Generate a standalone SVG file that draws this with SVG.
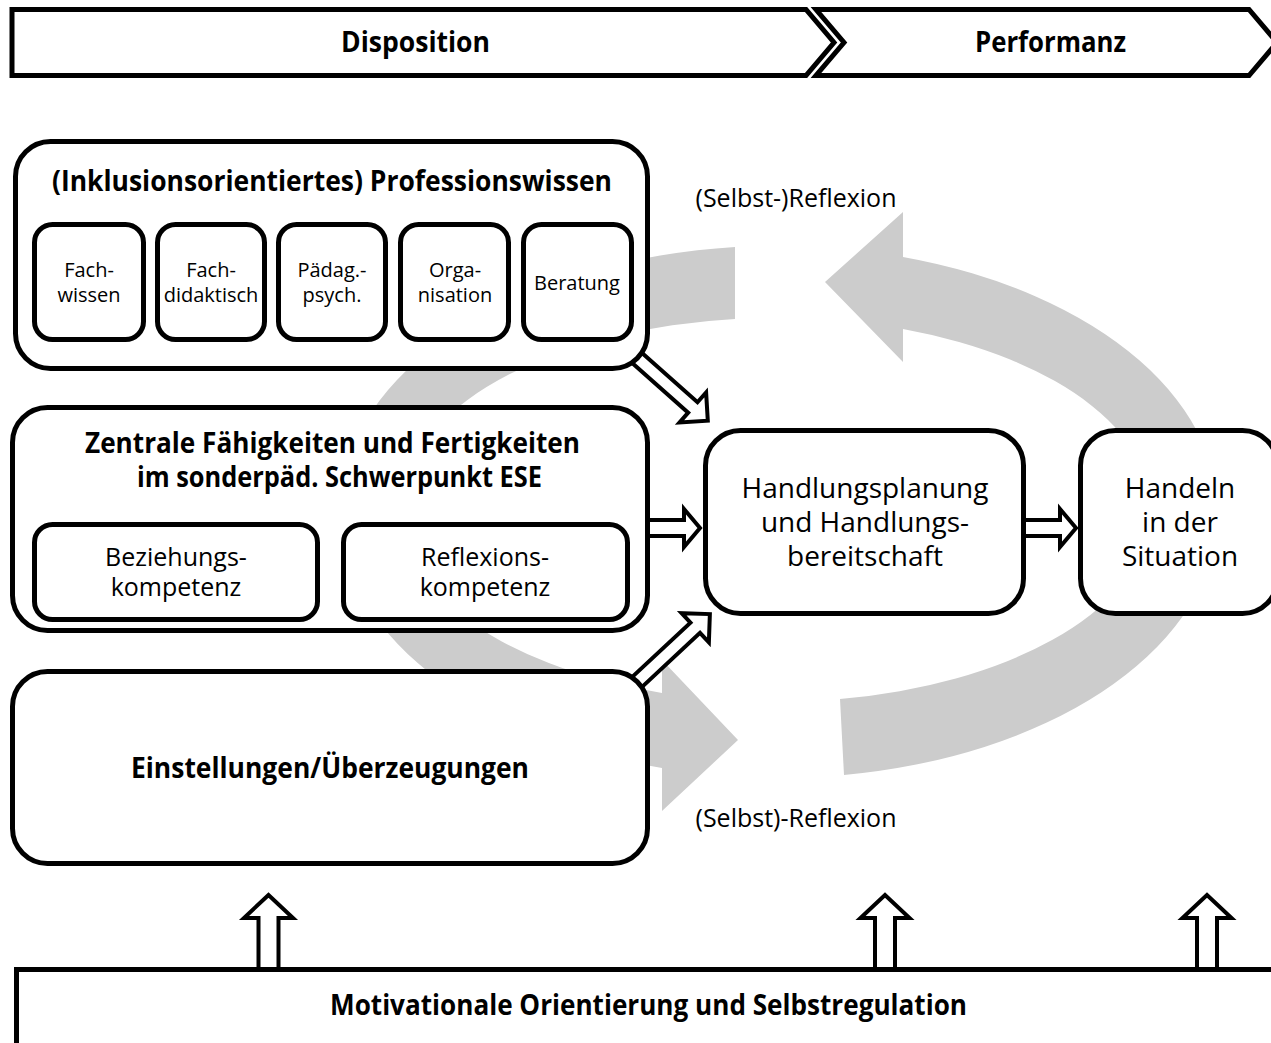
<svg xmlns="http://www.w3.org/2000/svg" width="1271" height="1043" viewBox="0 0 1271 1043">
<style>
.box{fill:#fff;stroke:#000;stroke-width:5}
.arr{fill:#fff;stroke:#000;stroke-width:4;stroke-linejoin:miter;stroke-miterlimit:10}
.gray{fill:#ccc}
.t{font-family:"Open Sans","Noto Sans",sans-serif;fill:#000;text-anchor:middle}
.b{font-weight:bold;font-size:28px}
.r28{font-size:28px}
.r25{font-size:25px}
.r20{font-size:20px}
</style>
<rect width="1271" height="1043" fill="#fff"/>

<g id="reflection-cycle">
  <path id="arc-top" class="gray" d="M844,775 A440 266 0 0 0 903,257 L903,212 L825,282 L903,362 L903,329 A375 192 0 0 1 840,699 Z"/>
  <path id="arc-bottom" class="gray" d="M735,247 A440 266 0 0 0 662,768 L662,811 L738,740 L662,660 L662,693 A375 192 0 0 1 735,319 Z"/>
  <text class="t r25" x="796" y="207">(Selbst-)Reflexion</text>
  <text class="t r25" x="796" y="827">(Selbst)-Reflexion</text>
</g>

<g id="connectors">
  <path class="arr" d="M0,-7 H76 V-20 L96,0 L76,20 V7 H0" transform="translate(636,357) rotate(41.6)"/>
  <path class="arr" d="M0,-7 H81 V-20 L101,0 L81,20 V7 H0" transform="translate(636,683) rotate(-43)"/>
  <path class="arr" d="M646,520 H684 V509 L700,528 L684,547 V536 H646"/>
  <path class="arr" d="M1022,520 H1060 V509 L1076,528 L1060,547 V536 H1022"/>
  <path class="arr" d="M258.5,970 V918 H244 L268.5,895 L293,918 H278.5 V970"/>
  <path class="arr" d="M875,970 V918 H860.5 L885,895 L909.5,918 H895 V970"/>
  <path class="arr" d="M1197,970 V918 H1182.5 L1207,895 L1231.5,918 H1217 V970"/>
</g>

<g id="disposition">
  <path class="box" d="M12,9.5 H806 L834,42.5 L806,75.5 H12 Z"/>
  <text class="t b" x="415.5" y="52" textLength="149" lengthAdjust="spacingAndGlyphs">Disposition</text>
</g>
<g id="performanz">
  <path class="box" d="M816,9.5 H1249 L1277,42.5 L1249,75.5 H816 L844,42.5 Z"/>
  <text class="t b" x="1050.5" y="52" textLength="151" lengthAdjust="spacingAndGlyphs">Performanz</text>
</g>

<g id="professionswissen">
  <rect class="box" x="15.5" y="141.5" width="632" height="227" rx="35"/>
  <text class="t b" x="332" y="191" textLength="560" lengthAdjust="spacingAndGlyphs">(Inklusionsorientiertes) Professionswissen</text>
  <g id="fachwissen">
    <rect class="box" x="34.5" y="224.5" width="109" height="115" rx="18"/>
    <text class="t r20" x="89" y="277">Fach-</text>
    <text class="t r20" x="89" y="302">wissen</text>
  </g>
  <g id="fachdidaktisch">
    <rect class="box" x="157.5" y="224.5" width="107" height="115" rx="18"/>
    <text class="t r20" x="211" y="277">Fach-</text>
    <text class="t r20" x="211" y="302">didaktisch</text>
  </g>
  <g id="paedpsych">
    <rect class="box" x="278.5" y="224.5" width="107" height="115" rx="18"/>
    <text class="t r20" x="332" y="277">Pädag.-</text>
    <text class="t r20" x="332" y="302">psych.</text>
  </g>
  <g id="organisation">
    <rect class="box" x="400.5" y="224.5" width="108" height="115" rx="18"/>
    <text class="t r20" x="455" y="277">Orga-</text>
    <text class="t r20" x="455" y="302">nisation</text>
  </g>
  <g id="beratung">
    <rect class="box" x="523.5" y="224.5" width="108" height="115" rx="18"/>
    <text class="t r20" x="577" y="290">Beratung</text>
  </g>
</g>

<g id="zentrale">
  <rect class="box" x="12.5" y="407.5" width="635" height="223" rx="35"/>
  <text class="t b" x="332.5" y="453" textLength="495" lengthAdjust="spacingAndGlyphs">Zentrale Fähigkeiten und Fertigkeiten</text>
  <text class="t b" x="339.5" y="487" textLength="405" lengthAdjust="spacingAndGlyphs">im sonderpäd. Schwerpunkt ESE</text>
  <g id="beziehungskompetenz">
    <rect class="box" x="34.5" y="524.5" width="283" height="95" rx="18"/>
    <text class="t r25" x="176" y="566">Beziehungs-</text>
    <text class="t r25" x="176" y="596">kompetenz</text>
  </g>
  <g id="reflexionskompetenz">
    <rect class="box" x="343.5" y="524.5" width="284" height="95" rx="18"/>
    <text class="t r25" x="485" y="566">Reflexions-</text>
    <text class="t r25" x="485" y="596">kompetenz</text>
  </g>
</g>

<g id="einstellungen">
  <rect class="box" x="12.5" y="671.5" width="635" height="192" rx="35"/>
  <text class="t b" x="330" y="778" textLength="398" lengthAdjust="spacingAndGlyphs">Einstellungen/Überzeugungen</text>
</g>

<g id="handlungsplanung">
  <rect class="box" x="705.5" y="430.5" width="318" height="183" rx="35"/>
  <text class="t r28" x="865" y="498">Handlungsplanung</text>
  <text class="t r28" x="865" y="532">und Handlungs-</text>
  <text class="t r28" x="865" y="566">bereitschaft</text>
</g>

<g id="handeln">
  <rect class="box" x="1080.5" y="430.5" width="197" height="183" rx="35"/>
  <text class="t r28" x="1180" y="498">Handeln</text>
  <text class="t r28" x="1180" y="532">in der</text>
  <text class="t r28" x="1180" y="566">Situation</text>
</g>

<g id="motivation">
  <rect class="box" x="16.5" y="969.5" width="1300" height="120" rx="0"/>
  <text class="t b" x="648.5" y="1015" textLength="637" lengthAdjust="spacingAndGlyphs">Motivationale Orientierung und Selbstregulation</text>
</g>
</svg>
